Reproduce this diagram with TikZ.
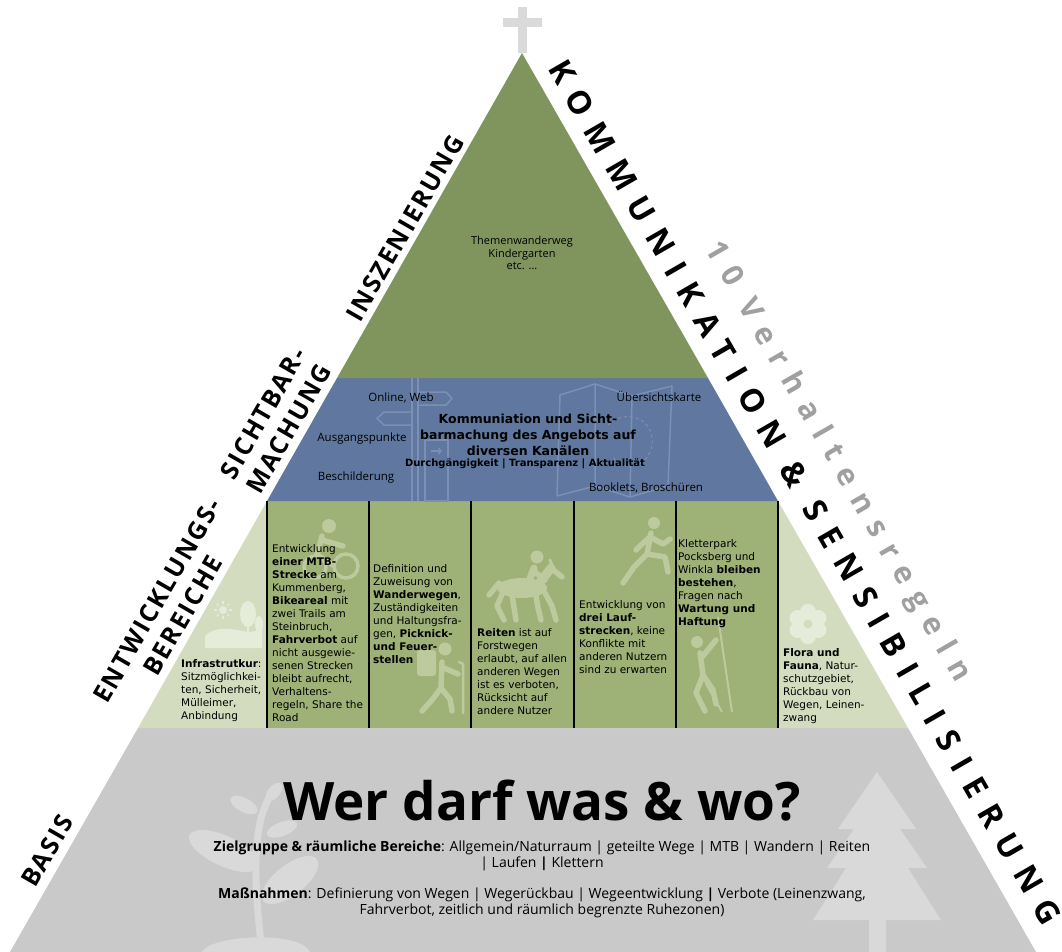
\documentclass[tikz,border=0pt]{standalone}
\usepackage{fontspec}
\setmainfont{Open Sans}
\newfontfamily\colfont{DejaVu Sans}
\newfontfamily\labelfont{Open Sans}[LetterSpace=8]
\newfontfamily\widefont{Open Sans}[LetterSpace=40]
\usepackage{tikz}

\definecolor{topgreen}{HTML}{80955E}
\definecolor{bandblue}{HTML}{60789F}
\definecolor{colgreen}{HTML}{9EB177}
\definecolor{sidegreen}{HTML}{D3DCBF}
\definecolor{basegray}{HTML}{C9C9C9}
\definecolor{crossgray}{HTML}{DADADA}
\definecolor{icongray}{HTML}{D9D9D9}
\definecolor{icongreen}{HTML}{BCCA9E}
\definecolor{iconlight}{HTML}{E6ECDA}
\definecolor{iconblue}{HTML}{7B90B4}
\definecolor{rulegray}{HTML}{A0A0A0}

\tikzset{
  stagelabel/.style={font=\labelfont\bfseries\fontsize{25}{30}\selectfont, rotate=60, align=center, inner sep=0pt},
  sidelabel/.style={font=\widefont\bfseries\fontsize{32}{38}\selectfont, rotate=-60, inner sep=0pt},
  coltext/.style={anchor=north west, inner sep=0pt, align=left, font=\colfont\fontsize{10.5}{13}\selectfont},
  hint/.style={inner sep=0pt, font=\fontsize{11.5}{13}\selectfont},
  basetext/.style={inner sep=0pt, align=center, font=\fontsize{14}{16.5}\selectfont},
  stick/.style={line width=5.5pt, line cap=round, line join=round},
  signline/.style={iconblue, line width=1.5pt, line join=round},
}

\begin{document}
\begin{tikzpicture}[x=1pt,y=-1pt]
\useasboundingbox (0,0) rectangle (1062,952);
\fill[white] (0,0) rectangle (1062,952);

% layers, bottom to top
\fill[basegray] (138,728) -- (908,728) -- (1036,952) -- (10,952) -- cycle;
\fill[sidegreen] (267,501) -- (778,501) -- (908,728) -- (138,728) -- cycle;
\fill[colgreen] (267,501) rectangle (778,728);
\fill[bandblue] (337,378) -- (708,378) -- (778,501) -- (267,501) -- cycle;
\fill[topgreen] (522,53) -- (708,378) -- (337,378) -- cycle;

% summit cross
\fill[crossgray] (518,7) rectangle (527,53);
\fill[crossgray] (503,18) rectangle (542,27);

% tree
\fill[icongray] (877,772) -- (916,829) -- (900,829) -- (927,868) -- (908,868) -- (941,920)
  -- (886,920) -- (886,952) -- (869,952) -- (869,920) -- (813,920) -- (846,868)
  -- (827,868) -- (854,829) -- (838,829) -- cycle;

% plant
\draw[icongray, line width=7pt] (262,952) .. controls (256,900) and (252,850) .. (262,815)
  .. controls (266,802) and (270,796) .. (274,790);
\fill[icongray, rotate around={50:(274,792)}] (274,792) ellipse (11 and 6);
\fill[icongray, rotate around={152:(244,805)}] (244,805) ellipse (15 and 7);
\fill[icongray, rotate around={20:(282,829)}] (282,829) ellipse (16 and 7);
\fill[icongray, rotate around={155:(224,851)}] (224,851) ellipse (38 and 15);
\fill[icongray, rotate around={38:(290,880)}] (290,880) ellipse (34 and 15);
\fill[icongray] (202,952) .. controls (210,935) and (300,930) .. (310,952) -- cycle;

% signpost
\draw[signline] (412,378) -- (412,501) (418,378) -- (418,501);
\draw[signline] (418,392) -- (446,392) -- (452,398.5) -- (446,405) -- (418,405);
\draw[signline] (412,412) -- (384,412) -- (377,418.5) -- (384,425) -- (412,425);
\draw[signline] (425,440) rectangle (448,501);
\draw[signline, ->] (431,451) -- (442,451);

% map
\draw[signline] (560,395) -- (595,384) -- (632,396) -- (672,386) -- (668,486) -- (630,497)
  -- (595,486) -- (557,496) -- cycle;
\draw[signline] (595,384) -- (595,486) (632,396) -- (630,497);
\draw[signline, dashed, line width=1pt] (608,425) .. controls (625,408) and (655,418) .. (652,445)
  .. controls (648,470) and (620,472) .. (612,455);

% sun and hills
\fill[iconlight] (223,610) circle (4);
\foreach \a in {0,45,...,315}
  \draw[iconlight, line width=1.2pt] (223,610) ++(\a:6) -- ++(\a:3);
\fill[iconlight] (248,614) ellipse (8 and 13);
\draw[iconlight, line width=2pt] (248,620) -- (248,636);
\fill[iconlight] (259,624) ellipse (4 and 8);
\fill[iconlight] (205,648) -- (205,636) .. controls (218,624) and (235,630) .. (248,632)
  .. controls (254,632) and (258,630) .. (262,628) -- (262,648) -- cycle;

% cyclist
\fill[icongreen] (329,526) circle (7);
\draw[icongreen, stick] (322,536) -- (317,555) -- (333,565);
\draw[icongreen, stick] (322,540) -- (343,546);
\draw[icongreen, line width=3.5pt] (315,567) circle (11) (346,566) circle (12);

% hiker
\fill[icongreen, rounded corners=3pt] (417,650) rectangle (436,676);
\fill[icongreen] (445,649) circle (6.5);
\draw[icongreen, stick] (442,662) -- (441,688) -- (432,700) -- (422,711);
\draw[icongreen, stick] (441,688) -- (450,699) -- (452,711);
\draw[icongreen, stick] (444,668) -- (458,674);
\draw[icongreen, line width=2.5pt, line cap=round] (459,662) -- (463,664) -- (463,713);

% rider
\fill[icongreen] (522,588) ellipse (25 and 10);
\draw[icongreen, line width=9pt, line cap=round] (538,585) -- (551,568);
\draw[icongreen, stick] (551,568) -- (562,577);
\draw[icongreen, line width=3pt, line cap=round] (552,566) -- (550,560);
\draw[icongreen, stick] (545,593) -- (552,606) -- (556,620);
\draw[icongreen, stick] (536,596) -- (538,608) -- (541,620);
\draw[icongreen, stick] (503,592) -- (497,606) -- (504,620);
\draw[icongreen, stick] (512,595) -- (516,620);
\draw[icongreen, stick] (499,583) -- (489,595);
\fill[icongreen] (537,557) circle (6.5);
\draw[icongreen, line width=7pt, line cap=round] (534,568) -- (528,584) -- (535,594);
\draw[icongreen, stick] (535,572) -- (545,580);

% runner
\fill[icongreen] (654,523) circle (6);
\draw[icongreen, stick] (651,533) -- (647,554);
\draw[icongreen, stick] (650,537) -- (641,545) -- (636,550);
\draw[icongreen, stick] (652,538) -- (663,544) -- (670,539);
\draw[icongreen, stick] (647,554) -- (634,567) -- (623,583);
\draw[icongreen, stick] (647,554) -- (665,557) -- (668,572);

% climber
\draw[icongreen, line width=2pt] (718,617) -- (732,712);
\draw[icongreen, line width=2pt] (706,684) -- (722,712);
\fill[icongreen] (697,642) circle (6);
\draw[icongreen, stick] (700,653) -- (703,675);
\draw[icongreen, stick] (702,657) -- (716,640);
\draw[icongreen, stick] (703,675) -- (696,693) -- (705,711);
\draw[icongreen, stick] (703,675) -- (713,690) -- (716,704);

% flower
\foreach \a in {0,60,...,300}
  \fill[iconlight] (808,624) ++(\a+90:12) circle (8);
\fill[iconlight] (808,624) circle (9);
\fill[sidegreen] (808,624) circle (4.5);

% column rules
\foreach \x in {267,369,471,574,676,778}
  \draw[line width=1.6pt] (\x,501) -- (\x,728);

% labels on the left side
\node[stagelabel] (inszenierung) at (405,228) {INSZENIERUNG};
\node[stagelabel] (sichtbar) at (276,421) {SICHTBAR-\\MACHUNG};
\node[stagelabel] (entwicklung) at (170,608) {ENTWICKLUNGS-\\BEREICHE};
\node[stagelabel] (basis) at (47,851) {BASIS};

% right side
\node[sidelabel] (kommunikation) at (805,492) {KOMMUNIKATION \& SENSIBILISIERUNG};
\node[sidelabel, text=rulegray, font=\widefont\bfseries\fontsize{30}{36}\selectfont] (regeln) at (837,462) {10 Verhaltensregeln};

% top
\node[align=center, inner sep=0pt, font=\fontsize{11}{12.5}\selectfont] (themen) at (522,253)
  {Themenwanderweg\\Kindergarten\\etc. ...};

% blue band
\node[hint] (online) at (401,398) {Online, Web};
\node[hint] (ausgang) at (362,439) {Ausgangspunkte};
\node[hint] (schilder) at (356,478) {Beschilderung};
\node[hint] (karte) at (659,396) {Übersichtskarte};
\node[hint] (booklets) at (646,488) {Booklets, Broschüren};
\node[align=center, inner sep=0pt, font=\colfont\bfseries\fontsize{12.5}{16}\selectfont] (kanaele) at (528,435)
  {Kommuniation und Sicht-\\barmachung des Angebots auf\\diversen Kanälen};
\node[inner sep=0pt, font=\colfont\bfseries\fontsize{10}{12}\selectfont] (leitsatz) at (525,464)
  {Durchgängigkeit | Transparenz | Aktualität};

% columns
\node[coltext] (infra) at (181,659) {\textbf{Infrastrutkur}:\\Sitzmöglichkei-\\ten, Sicherheit,\\Mülleimer,\\Anbindung};
\node[coltext] (mtb) at (272,544) {Entwicklung\\\textbf{einer MTB-}\\\textbf{Strecke} am\\Kummenberg,\\\textbf{Bikeareal} mit\\zwei Trails am\\Steinbruch,\\\textbf{Fahrverbot} auf\\nicht ausgewie-\\senen Strecken\\bleibt aufrecht,\\Verhaltens-\\regeln, Share the\\Road};
\node[coltext] (wandern) at (373,564) {Definition und\\Zuweisung von\\\textbf{Wanderwegen},\\Zuständigkeiten\\und Haltungsfra-\\gen, \textbf{Picknick-}\\\textbf{und Feuer-}\\\textbf{stellen}};
\node[coltext] (reiten) at (477,628) {\textbf{Reiten} ist auf\\Forstwegen\\erlaubt, auf allen\\anderen Wegen\\ist es verboten,\\Rücksicht auf\\andere Nutzer};
\node[coltext] (laufen) at (579,600) {Entwicklung von\\\textbf{drei Lauf-}\\\textbf{strecken}, keine\\Konflikte mit\\anderen Nutzern\\sind zu erwarten};
\node[coltext] (klettern) at (678,539) {Kletterpark\\Pocksberg und\\Winkla \textbf{bleiben}\\\textbf{bestehen},\\Fragen nach\\\textbf{Wartung und}\\\textbf{Haftung}};
\node[coltext] (flora) at (783,648) {\textbf{Flora und}\\\textbf{Fauna}, Natur-\\schutzgebiet,\\Rückbau von\\Wegen, Leinen-\\zwang};

% base
\node[anchor=base, inner sep=0pt, font=\bfseries\fontsize{53}{62}\selectfont] (frage) at (542,820) {Wer darf was \& wo?};
\node[basetext] (zielgruppe) at (542,856) {\textbf{Zielgruppe \& räumliche Bereiche}: Allgemein/Naturraum | geteilte Wege | MTB | Wandern | Reiten\\| Laufen \textbf{|} Klettern};
\node[basetext] (massnahmen) at (542,903) {\textbf{Maßnahmen}: Definierung von Wegen | Wegerückbau | Wegeentwicklung \textbf{|} Verbote (Leinenzwang,\\Fahrverbot, zeitlich und räumlich begrenzte Ruhezonen)};
\end{tikzpicture}
\end{document}
